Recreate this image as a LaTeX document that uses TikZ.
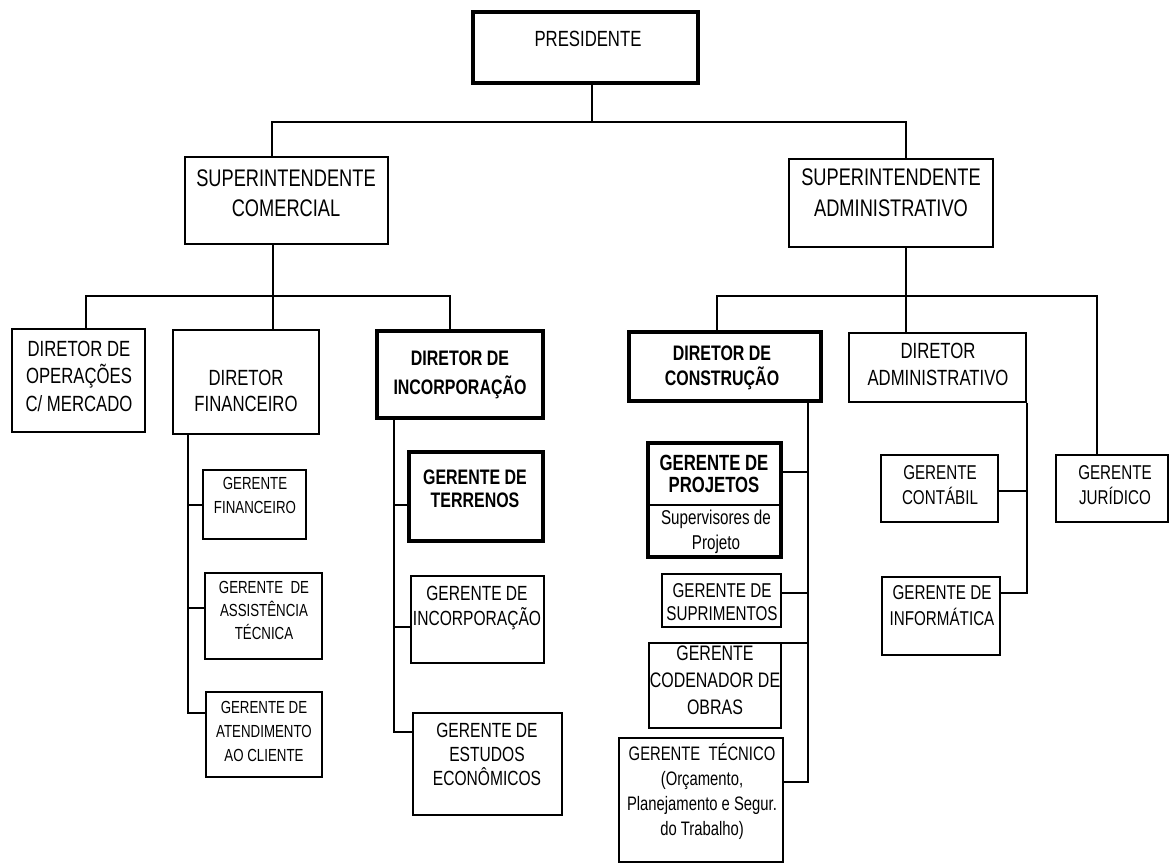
\documentclass[tikz,border=0pt]{standalone}
\usepackage{fontspec}
\setmainfont{Liberation Sans}[FakeStretch=0.76]
\usetikzlibrary{fit}

% text block: name, extra font switch, x, y of first line middle, size, line skip, text
\newcommand\boxlabel[7]{%
  \node[lbl, font={\fontsize{#5}{#6}\selectfont#2}, yshift={0.642*#5pt}] (#1) at (#3,#4) {\rule{0pt}{#5pt}#7};}

\tikzset{
  box/.style={draw=black, line width=1.8pt, rectangle, inner sep=0pt},
  heavybox/.style={box, line width=3.4pt},
  conn/.style={draw=black, line width=1.5pt},
  lbl/.style={anchor=north, inner sep=0pt, align=center, text=black},
}

\begin{document}
\begin{tikzpicture}[x=1pt, y=-1pt]
\useasboundingbox (0,0) rectangle (1169,865);

% ---------- boxes ----------
\node[heavybox, fit={(473,12) (698,83)}]   (pres) {};
\node[box, fit={(185,157) (388,244)}]      (supC) {};
\node[box, fit={(789,159) (993,247)}]      (supA) {};

\node[box, fit={(12,329) (145,432)}]       (opD)  {};
\node[box, fit={(173,330) (319,434)}]      (finD) {};
\node[heavybox, fit={(377,331) (543,418)}] (incD) {};
\node[heavybox, fit={(629,332) (821,401)}] (conD) {};
\node[box, fit={(849,333) (1026,402)}]     (admD) {};

\node[box, fit={(203,470) (306,539)}]      (gfin) {};
\node[box, fit={(205,573) (322,659)}]      (gass) {};
\node[box, fit={(206,692) (322,777)}]      (gatd) {};

\node[heavybox, fit={(409,452) (543,541)}] (gter) {};
\node[box, fit={(411,576) (544,663)}]      (ginc) {};
\node[box, fit={(413,713) (562,815)}]      (gest) {};

\node[heavybox, fit={(648,443) (781,557)}] (gproj) {};
\node[box, fit={(662,574) (781,627)}]      (gsup) {};
\node[box, fit={(649,643) (781,728)}]      (gcod) {};
\node[box, fit={(619,738) (783,862)}]      (gtec) {};

\node[box, fit={(881,455) (998,522)}]      (gcont) {};
\node[box, fit={(882,577) (1000,655)}]     (ginf) {};
\node[box, fit={(1056,455) (1168,522)}]    (gjur) {};

% divider inside the projects box
\coordinate (pdiv) at (700,505);
\draw[line width=1.5pt] (gproj.west|-pdiv) -- (gproj.east|-pdiv);

% ---------- texts ----------
\boxlabel{presT}{}{588}{38}{22}{26}{PRESIDENTE}
\boxlabel{supCT}{}{286}{178}{24}{30}{SUPERINTENDENTE\\COMERCIAL}
\boxlabel{supAT}{}{891}{177}{24}{31}{SUPERINTENDENTE\\ADMINISTRATIVO}

\boxlabel{opDT}{}{79}{348}{22}{27.5}{DIRETOR DE\\OPERAÇÕES\\C/ MERCADO}
\boxlabel{finDT}{}{246}{377}{22}{26}{DIRETOR\\FINANCEIRO}
\boxlabel{incDT}{\bfseries}{460}{358}{21}{29}{DIRETOR DE\\INCORPORAÇÃO}
\boxlabel{conDT}{\bfseries}{722}{353}{21}{25}{DIRETOR DE\\CONSTRUÇÃO}
\boxlabel{admDT}{}{938}{350}{22}{27}{DIRETOR\\ADMINISTRATIVO}

\boxlabel{gfinT}{}{255}{483}{17.5}{24}{GERENTE\\FINANCEIRO}
\boxlabel{gassT}{}{264}{587}{17.5}{23}{GERENTE~~DE\\ASSISTÊNCIA\\TÉCNICA}
\boxlabel{gatdT}{}{264}{707}{17.5}{24}{GERENTE DE\\ATENDIMENTO\\AO CLIENTE}

\boxlabel{gterT}{\bfseries}{475}{477}{21}{23}{GERENTE DE\\TERRENOS}
\boxlabel{gincT}{}{477}{593}{20.5}{25}{GERENTE DE\\INCORPORAÇÃO}
\boxlabel{gestT}{}{487}{730}{20.5}{24}{GERENTE DE\\ESTUDOS\\ECONÔMICOS}

\boxlabel{gprojT}{\bfseries}{714}{462}{22}{22}{GERENTE DE\\PROJETOS}
\boxlabel{gprojS}{}{716}{517}{20}{25}{Supervisores de\\Projeto}
\boxlabel{gsupT}{}{722}{590}{20}{23}{GERENTE DE\\SUPRIMENTOS}
\boxlabel{gcodT}{}{715}{653}{21}{27}{GERENTE\\CODENADOR DE\\OBRAS}
\boxlabel{gtecT}{}{702}{753}{19.5}{25}{GERENTE~~TÉCNICO\\(Orçamento,\\Planejamento e Segur.\\do Trabalho)}

\boxlabel{gcontT}{}{940}{472}{20}{25}{GERENTE\\CONTÁBIL}
\boxlabel{ginfT}{}{942}{592}{20}{26}{GERENTE DE\\INFORMÁTICA}
\boxlabel{gjurT}{}{1115}{472}{20}{25}{GERENTE\\JURÍDICO}

% ---------- connectors ----------
% president to superintendents
\coordinate (j0) at (592,122);
\coordinate (busA) at (272,122);
\coordinate (busB) at (906,122);
\draw[conn] (pres.south-|j0) -- (j0);
\draw[conn] (supC.north-|busA) -- (busA) -- (busB) -- (supA.north-|busB);

% commercial superintendent to its directors
\coordinate (c0) at (273,296);
\coordinate (c1) at (86,296);
\coordinate (c2) at (450,296);
\draw[conn] (supC.south-|c0) -- (finD.north-|c0);
\draw[conn] (opD.north-|c1) -- (c1) -- (c2) -- (incD.north-|c2);

% administrative superintendent to its directors
\coordinate (a0) at (906,296);
\coordinate (a1) at (717,296);
\coordinate (a2) at (1097,296);
\draw[conn] (supA.south-|a0) -- (admD.north-|a0);
\draw[conn] (conD.north-|a1) -- (a1) -- (a2) -- (gjur.north-|a2);

% financial director's managers
\coordinate (f1) at (188,505);
\coordinate (f2) at (188,608);
\coordinate (f3) at (188,713);
\draw[conn] (finD.south-|f3) -- (f3) -- (gatd.west|-f3);
\draw[conn] (f1) -- (gfin.west|-f1);
\draw[conn] (f2) -- (gass.west|-f2);

% incorporation director's managers
\coordinate (i1) at (394,505);
\coordinate (i2) at (394,627);
\coordinate (i3) at (394,732);
\draw[conn] (incD.south-|i3) -- (i3) -- (gest.west|-i3);
\draw[conn] (i1) -- (gter.west|-i1);
\draw[conn] (i2) -- (ginc.west|-i2);

% construction director's managers
\coordinate (k1) at (808,472);
\coordinate (k2) at (808,593);
\coordinate (k3) at (808,643);
\coordinate (k4) at (808,782);
\draw[conn] (conD.south-|k4) -- (k4) -- (gtec.east|-k4);
\draw[conn] (k1) -- (gproj.east|-k1);
\draw[conn] (k2) -- (gsup.east|-k2);
\draw[conn] (k3) -- (gcod.east|-k3);

% administrative director's managers
\coordinate (d1) at (1027,491);
\coordinate (d2) at (1027,593);
\draw[conn] (admD.south-|d2) -- (d2) -- (ginf.east|-d2);
\draw[conn] (d1) -- (gcont.east|-d1);
\end{tikzpicture}
\end{document}
